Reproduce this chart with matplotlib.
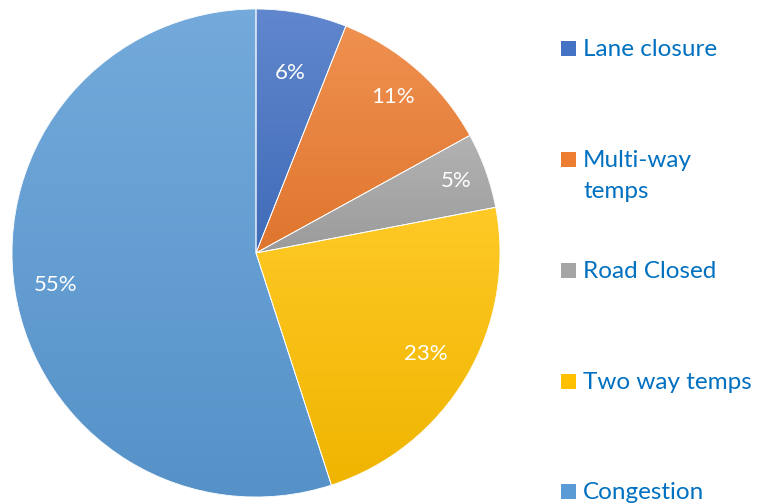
import numpy as np
import matplotlib.pyplot as plt
from matplotlib.colors import to_rgb
from matplotlib.patches import Rectangle, Wedge

plt.rcParams['font.family'] = ['Lato', 'DejaVu Sans']

# data
categories = ['Lane closure', 'Multi-way\ntemps', 'Road Closed', 'Two way temps', 'Congestion']
shares = [6, 11, 5, 23, 55]
colors = ['#4472C4', '#ED7D31', '#A5A5A5', '#FFC000', '#5B9BD5']
label_dist = [0.75, 0.85, 0.87, 0.81, 0.83]   # excel "best fit" places labels a bit differently per slice

def shade(c, amt):
    # amt > 0 lightens, amt < 0 darkens
    c = np.array(to_rgb(c))
    if amt > 0:
        return c + (1 - c) * amt
    return c * (1 + amt)

fig = plt.figure(figsize=(7.69, 5.04), dpi=100)
ax = fig.add_axes([12 / 769, 7 / 504, 488 / 769, 488 / 504])

wedges, _ = ax.pie(shares, colors=colors, startangle=90, counterclock=False,
                   wedgeprops=dict(edgecolor='white', linewidth=0.6))
ax.set_xlim(-1, 1)
ax.set_ylim(-1, 1)
ax.set_aspect('equal')
ax.axis('off')

# vertical gradient inside each slice, lighter at top
for w, c in zip(wedges, colors):
    bb = w.get_path().get_extents()
    top, bot = shade(c, 0.15), shade(c, -0.06)
    t = np.linspace(0, 1, 128)[:, None]
    grad = (top[None, :] * (1 - t) + bot[None, :] * t)[:, None, :]
    im = ax.imshow(grad, extent=(bb.x0, bb.x1, bb.y0, bb.y1), origin='upper',
                   aspect='auto', interpolation='bilinear', zorder=1.5)
    im.set_clip_path(w)
    w.set_zorder(1)

# edges drawn on top
for w in wedges:
    ax.add_patch(Wedge(w.center, w.r, w.theta1, w.theta2, facecolor='none',
                       edgecolor='white', linewidth=0.6, zorder=2))

# percentage labels
for w, v, d in zip(wedges, shares, label_dist):
    ang = np.deg2rad((w.theta1 + w.theta2) / 2)
    ax.text(d * np.cos(ang), d * np.sin(ang), f'{v}%', ha='center', va='center',
            color='white', fontsize=16, zorder=3)

# legend (manual, excel style spacing), baselines in pixels from top
leg_base = [56, 167, 278, 389, 499]
line_h = 31
for name, c, yb in zip(categories, colors, leg_base):
    fig.patches.append(Rectangle((561 / 769, (504 - yb) / 504), 15 / 769, 15 / 504,
                                 transform=fig.transFigure, figure=fig,
                                 facecolor=c, edgecolor='none'))
    for k, line in enumerate(name.split('\n')):
        fig.text(583 / 769, (504 - yb - k * line_h) / 504, line, ha='left',
                 va='baseline', color='#0070C0', fontsize=17.5)

fig.savefig('out.png', dpi=100)
